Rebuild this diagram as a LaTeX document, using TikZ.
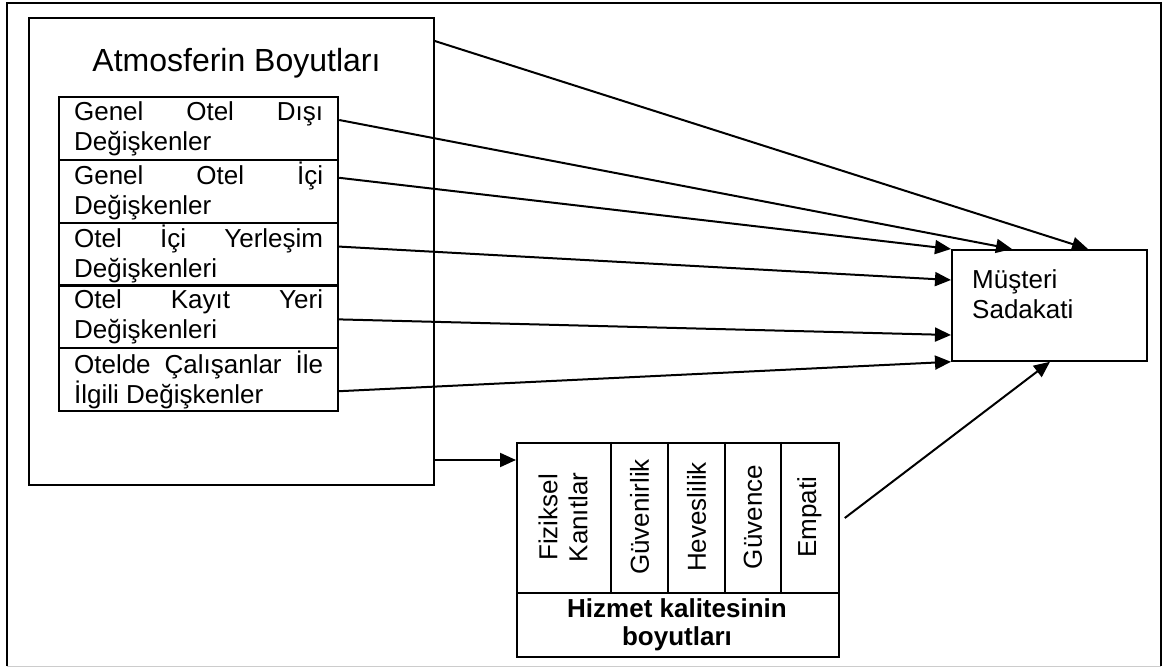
\documentclass[tikz,border=0pt]{standalone}
\usepackage{fontspec}
\setmainfont{Liberation Sans}
\usetikzlibrary{arrows.meta,calc}
\begin{document}
\begin{tikzpicture}[x=1pt,y=-1pt,
  box/.style={draw,line width=1.8pt,inner sep=0pt,anchor=north west},
  sub/.style={draw,line width=2.2pt,inner sep=0pt,anchor=north west,minimum width=279pt,minimum height=62.8pt},
  conn/.style={line width=2pt,-{Triangle[length=16pt,width=14pt]}},
  txt/.style={font=\fontsize{26}{30}\selectfont,inner sep=0pt},
  col/.style={draw,line width=1.8pt}]
\useasboundingbox (0,0) rectangle (1163,668);
\fill[white] (0,0) rectangle (1163,668);
% outer frame
\draw[line width=1.8pt] (7,666) -- (7,3) -- (1161,3) -- (1161,666);
\draw[line width=1pt,gray!40] (7,666.5) -- (1161,666.5);
% big box
\node[box,minimum width=405pt,minimum height=467pt] (atm) at (28,17) {};
\node[font=\fontsize{32}{36}\selectfont,inner sep=0pt,anchor=base] (title) at (236.5,72) {Atmosferin Boyutları};
% sub boxes
\node[sub] (s1) at (58,96) {};
\node[sub] (s2) at (58,158.8) {};
\node[sub] (s3) at (58,221.6) {};
\node[sub] (s4) at (58,284.4) {};
\node[sub] (s5) at (58,347.2) {};
\node[txt,align=left] (t1) at (s1.center) {\hbox to 249pt{Genel\hfill Otel\hfill Dışı}\\\hbox to 249pt{Değişkenler\hfill}};
\node[txt,align=left] (t2) at (s2.center) {\hbox to 249pt{Genel\hfill Otel\hfill İçi}\\\hbox to 249pt{Değişkenler\hfill}};
\node[txt,align=left] (t3) at (s3.center) {\hbox to 249pt{Otel\hfill İçi\hfill Yerleşim}\\\hbox to 249pt{Değişkenleri\hfill}};
\node[txt,align=left] (t4) at (s4.center) {\hbox to 249pt{Otel\hfill Kayıt\hfill Yeri}\\\hbox to 249pt{Değişkenleri\hfill}};
\node[txt,align=left] (t5) at (s5.center) {\hbox to 249pt{Otelde\hfill Çalışanlar\hfill İle}\\\hbox to 249pt{İlgili Değişkenler\hfill}};
% Musteri box
\node[box,minimum width=195pt,minimum height=111pt] (m) at (951,249) {};
\node[txt,align=left,anchor=west] (mt) at (972,294) {Müşteri\\Sadakati};
% Hizmet box
\node[box,minimum width=322pt,minimum height=214pt] (hz) at (516,442) {};
\draw[col] (516,593) -- (838,593);
\draw[col] (611,442) -- (611,593);
\draw[col] (668,442) -- (668,593);
\draw[col] (725,442) -- (725,593);
\draw[col] (781,442) -- (781,593);
\node[txt,rotate=90,align=center] (c1) at (563,517.5) {Fiziksel\\Kanıtlar};
\node[txt,rotate=90] (c2) at (639.5,517) {Güvenirlik};
\node[txt,rotate=90] (c3) at (696.5,517) {Heveslilik};
\node[txt,rotate=90] (c4) at (753,517) {Güvence};
\node[txt,rotate=90] (c5) at (809.5,517) {Empati};
\node[txt,font=\fontsize{26}{28}\selectfont\bfseries,align=center] (hzt) at (677,625) {Hizmet kalitesinin\\boyutları};
% connectors
\draw[conn] ($(atm.north east)+(0,24)$) -- ($(m.north west)+(137,0)$);
\draw[conn] ($(s1.north east)+(0,24)$) -- ($(m.north west)+(61,0)$);
\draw[conn] ($(s2.north east)+(0,19)$) -- (m.north west);
\draw[conn] ($(s3.north east)+(0,25)$) -- ($(m.north west)+(0,31)$);
\draw[conn] ($(s4.north east)+(0,35)$) -- ($(m.north west)+(0,86)$);
\draw[conn] ($(s5.north east)+(0,44)$) -- (m.south west);
\draw[conn] ($(hz.north east)+(5,76)$) -- ($(m.south west)+(99,0)$);
\draw[conn] ($(atm.north east)+(0,443)$) -- ($(hz.north west)+(0,18)$);
\end{tikzpicture}
\end{document}
